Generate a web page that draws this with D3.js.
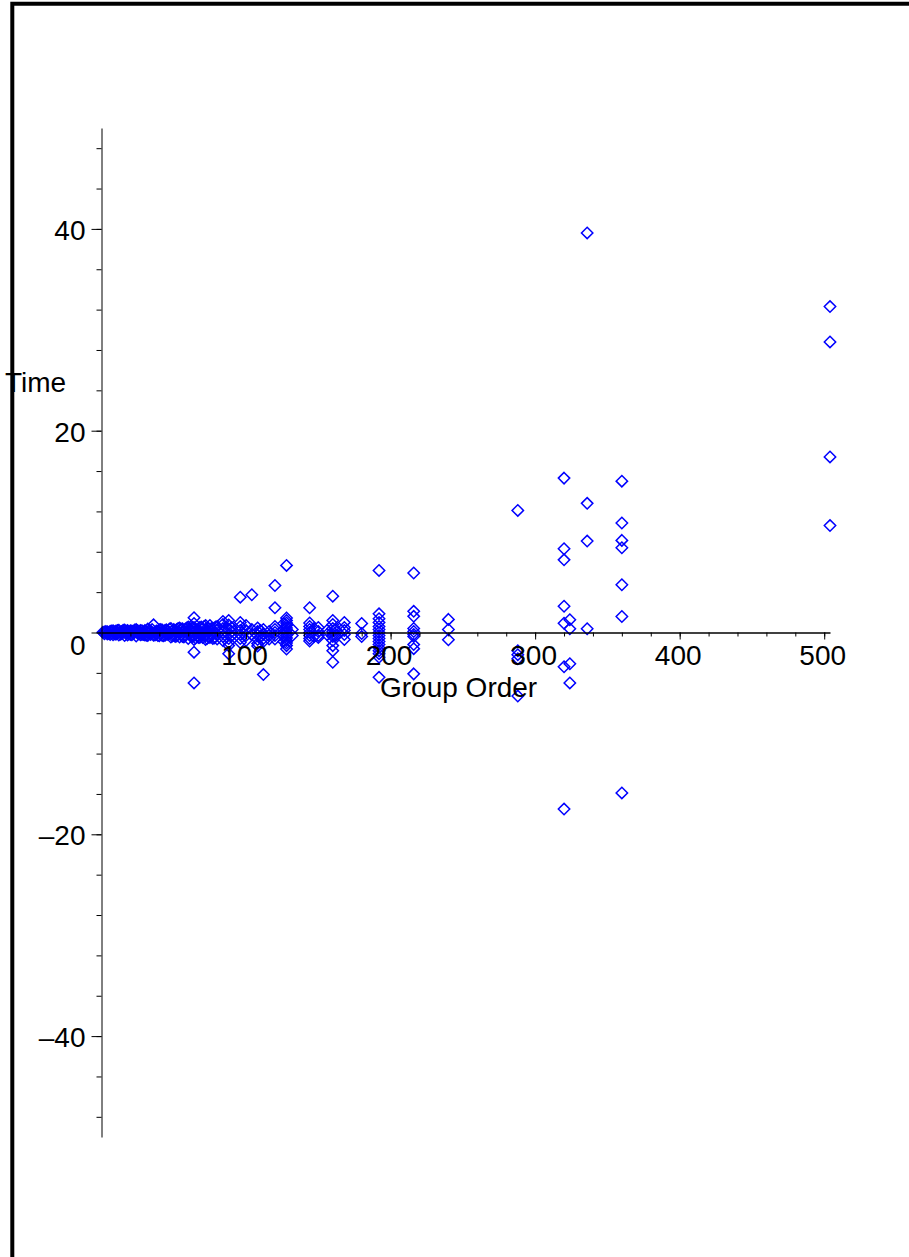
<!DOCTYPE html>
<html>
<head>
<meta charset="utf-8">
<script src="https://cdn.jsdelivr.net/npm/d3@7"></script>
<style>
  html, body { margin: 0; padding: 0; background: #fff; }
  svg { display: block; }
  text { font-family: "Liberation Sans", Arial, sans-serif; }
</style>
</head>
<body>
<script>
// ---------- data (group order vs time) ----------
const lowBandOrders = d3.range(1, 81);
const lowBandTimes = [
  0.02, 0.05, -0.03, 0.08, 0.01, 0.12, -0.05, 0.18, 0.04, 0.15,
  -0.02, 0.22, 0.03, -0.12, 0.06, 0.25, -0.04, 0.2, 0.02, -0.2,
  0.14, -0.1, 0.05, 0.3, -0.08, 0.12, -0.22, 0.18, 0.03, -0.25,
  0.07, 0.35, -0.1, 0.15, -0.06, 0.76, 0.04, -0.18, 0.1, 0.28,
  -0.05, -0.3, 0.09, 0.22, -0.15, 0.12, -0.04, 0.4, 0.1, -0.28,
  0.1, -0.35, 0.05, 0.45, -0.2, 0.38, 0.08, -0.3, 0.02, 0.55,
  -0.1, 0.2, -0.4, 0.3, 0.12, -0.3, 0.05, 0.5, -0.15, 0.35,
  -0.05, 0.7, 0.1, -0.45, 0.69, -0.2, 0.15, 0.45, -0.1, 0.6
];
const extraLowOrders = [2,4,6,8,10,12,14,16,18,20,22,24,26,28,30,32,34,36,38,40,42,44,46,48,50,52,54,56,58,60,62,66,68,70,74,76,78];
const extraLowTimes = [-0.12,-0.15,-0.2,-0.22,-0.18,-0.25,0.1,-0.3,-0.24,0.18,0.12,-0.35,-0.15,-0.2,0.2,-0.3,-0.2,-0.28,0.15,-0.32,0.25,-0.26,-0.2,-0.45,0.3,0.3,-0.45,-0.4,0.35,-0.6,-0.3,0.3,-0.5,-0.5,0.4,0.4,-0.55];
const thirdLowOrders = [3,5,7,9,11,13,15,17,19,21,23,25,27,29,31,33,35,37,39,41,43,45,47,49,51,53,55,57,59,61,63,65,67,69,71,73,75,77,79];
const thirdLowTimes = [0.1,-0.1,0.15,-0.12,0.2,-0.18,0.22,0.12,-0.15,-0.22,0.25,0.18,0.2,-0.2,-0.28,0.2,0.3,-0.25,-0.3,0.3,-0.32,0.26,0.35,-0.35,-0.4,0.4,0.35,-0.45,0.45,0.4,0.5,-0.55,-0.5,0.55,0.6,-0.6,-0.5,-0.6,0.55];

const columnOrders = [64, 72, 80, 84, 88, 90, 96, 100, 104, 108, 110, 112, 116, 120, 126, 128, 132, 144, 147, 150, 156, 160, 162, 168, 180, 192, 216, 240];
const columnTimes = [
  [1.46, 0.9, 0.5, -0.3, -0.7, -1.95, -5.0],
  [0.3, -0.3, -0.7],
  [0.2, -0.2, -0.65],
  [1.1, 0.8, 0.4, 0, -0.4, -0.8],
  [1.19, 0.75, 0.3, -0.2, -0.6, -1.0, -1.3, -2.1],
  [0.5, 0.1, -0.3],
  [3.5, 1.0, 0.6, 0.2, -0.2, -0.6, -1.0],
  [0.7, 0.2, -0.3, -0.8],
  [3.74, 0.3, -0.2],
  [0.45, 0.1, -0.3, -0.7, -1.1, -1.34],
  [0.2, -0.4],
  [0.3, -0.2, -0.6, -0.9, -4.17],
  [0.1, -0.3, -0.65],
  [4.66, 2.45, 0.6, 0.3, 0, -0.3, -0.65],
  [0.9, 0.3, -0.3, -0.9],
  [6.65, 1.44, 1.2, 0.95, 0.7, 0.45, 0.2, -0.05, -0.3, -0.55, -0.8, -1.05, -1.3, -1.64],
  [0.3, -0.3],
  [2.45, 0.94, 0.6, 0.3, 0, -0.3, -0.6, -0.84],
  [0.4, -0.4],
  [0.5, 0.1, -0.3, -0.5],
  [0.2, -0.2],
  [3.6, 1.19, 0.8, 0.4, 0.1, -0.2, -0.4, -0.8, -1.3, -1.8, -2.95],
  [0.3, -0.3],
  [1.0, 0.5, 0.2, -0.2, -0.7],
  [0.9, -0.1, -0.4],
  [6.15, 1.85, 1.36, 1.0, 0.6, 0.3, 0, -0.3, -0.6, -0.9, -1.2, -1.5, -1.8, -2.1, -2.45, -4.44],
  [5.9, 2.1, 1.6, 0.4, 0.1, -0.2, -0.4, -1.2, -1.6, -4.1],
  [1.3, 0.3, -0.72]
];

const outlierOrders = [288, 320, 324, 336, 360, 504];
const outlierTimes = [
  [12.1, -1.8, -2.2, -2.6, -6.3],
  [15.3, 8.3, 7.2, 2.6, 0.92, -3.4, -17.5],
  [1.26, 0.37, -3.1, -5.0],
  [39.6, 12.8, 9.06, 0.37],
  [15.0, 10.85, 9.13, 8.4, 4.73, 1.59, -15.9],
  [32.3, 28.8, 17.4, 10.6]
];

const xMajorTicks = [100, 200, 300, 400, 500];
const xMinorTicks = d3.range(20, 501, 20);
const yMajorTicks = [-40, -20, 0, 20, 40];
const yMinorTicks = d3.range(-48, 49, 4);
const xTitle = "Group Order";
const yTitle = "Time";

// ---------- build point table ----------
const points = [];
lowBandOrders.forEach((o, i) => points.push({ x: o, y: lowBandTimes[i] }));
extraLowOrders.forEach((o, i) => points.push({ x: o, y: extraLowTimes[i] }));
thirdLowOrders.forEach((o, i) => points.push({ x: o, y: thirdLowTimes[i] }));
columnOrders.forEach((o, i) => columnTimes[i].forEach(t => points.push({ x: o, y: t })));
outlierOrders.forEach((o, i) => outlierTimes[i].forEach(t => points.push({ x: o, y: t })));

// ---------- drawing ----------
const W = 909, H = 1257;
const FS = 28;
const svg = d3.select("body").append("svg").attr("width", W).attr("height", H);

const x = d3.scaleLinear().domain([0, 504]).range([101.5, 830]);
const y = d3.scaleLinear().domain([-50, 50]).range([1137, 128]);

// frame
svg.append("path")
  .attr("d", `M12.3,${H} V3.8 H${W}`)
  .attr("fill", "none").attr("stroke", "#000").attr("stroke-width", 4);

// points (diamonds)
const diamond = { draw(ctx, size) { const r = Math.sqrt(size) / 2; ctx.moveTo(0, -r); ctx.lineTo(r, 0); ctx.lineTo(0, r); ctx.lineTo(-r, 0); ctx.closePath(); } };
const sym = d3.symbol().type(diamond).size(130);
svg.append("g").selectAll("path").data(points).join("path")
  .attr("d", sym)
  .attr("transform", d => `translate(${x(d.x)},${y(d.y)})`)
  .attr("fill", "none").attr("stroke", "#0000ff").attr("stroke-width", 1.5);

// x axis
const xg = svg.append("g").attr("transform", `translate(0,${y(0)})`);
xg.append("g").call(d3.axisBottom(x).tickValues(xMinorTicks).tickSize(4).tickSizeOuter(0).tickFormat(""));
xg.append("g").call(d3.axisBottom(x).tickValues(xMajorTicks).tickSize(7).tickSizeOuter(0).tickPadding(6))
  .call(g => g.select(".domain").remove())
  .call(g => g.selectAll("text").attr("font-size", FS).attr("font-family", "Liberation Sans, Arial, sans-serif").attr("fill", "#000").attr("dx", -2));
xg.selectAll("path.domain").attr("stroke", "#000").attr("stroke-width", 1.3);

// y axis
const yg = svg.append("g").attr("transform", `translate(${x(0)},0)`);
yg.append("g").call(d3.axisLeft(y).tickValues(yMinorTicks).tickSize(5).tickSizeOuter(0).tickFormat(""));
yg.append("g").call(d3.axisLeft(y).tickValues(yMajorTicks).tickSize(10).tickSizeOuter(0).tickPadding(6)
    .tickFormat(d => d < 0 ? "\u2013" + Math.abs(d) : String(d)))
  .call(g => g.select(".domain").remove())
  .call(g => g.selectAll("text").attr("font-size", FS).attr("font-family", "Liberation Sans, Arial, sans-serif").attr("fill", "#000")
    .attr("dy", d => d === 0 ? "0.8em" : "0.38em"));

// axis titles
svg.append("text").attr("x", 380).attr("y", 697).attr("font-size", FS).attr("fill", "#000").text(xTitle);
svg.append("text").attr("x", 5).attr("y", 392).attr("font-size", FS).attr("fill", "#000").text(yTitle);
</script>
</body>
</html>
